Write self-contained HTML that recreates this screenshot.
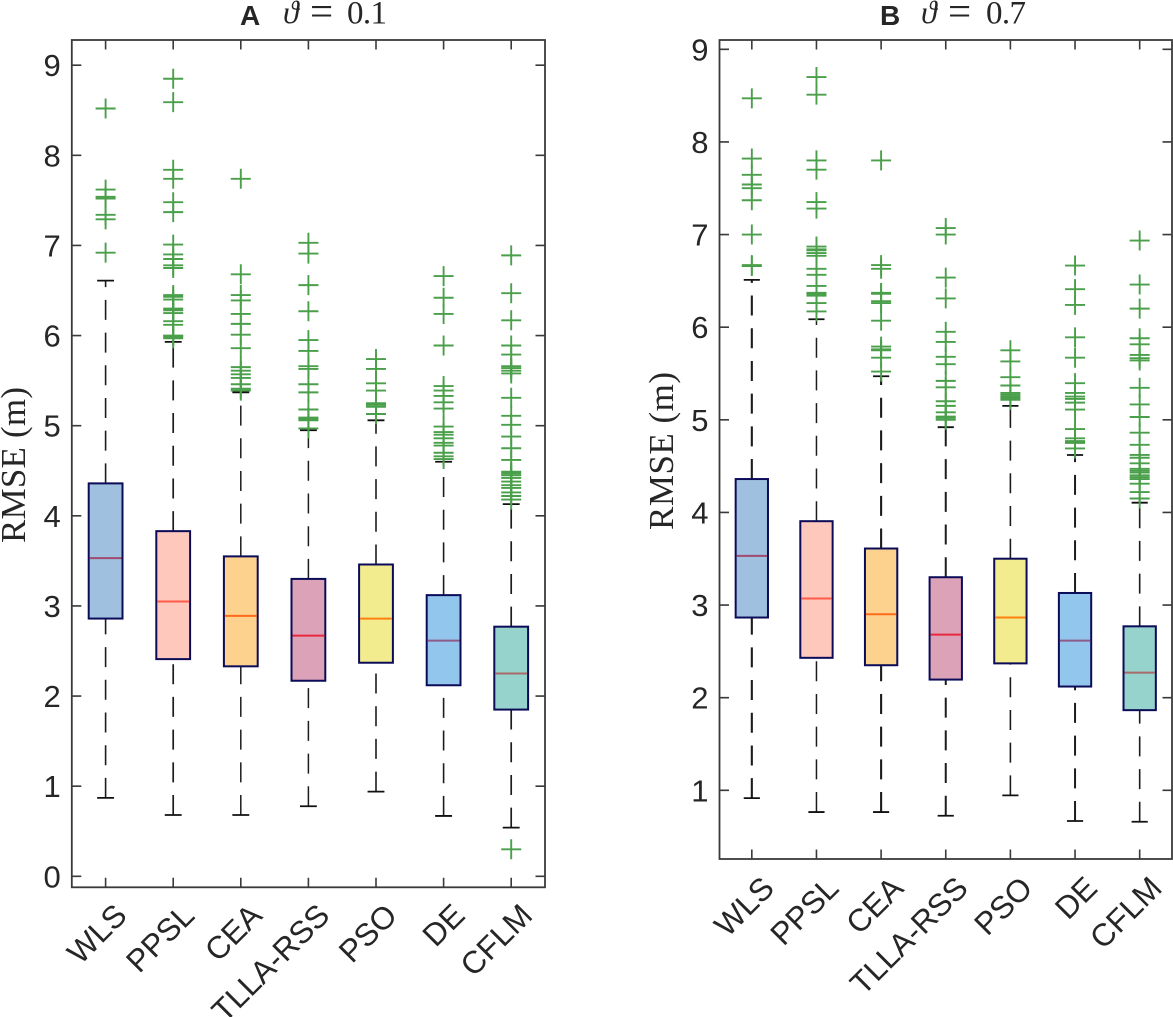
<!DOCTYPE html>
<html lang="en">
<head>
<meta charset="utf-8">
<title>RMSE box plots</title>
<style>
html,body{margin:0;padding:0;background:#fff;width:1173px;height:1017px;overflow:hidden}
svg{display:block}
text{font-family:"Liberation Sans",sans-serif;fill:#262626}
.serif{font-family:"Liberation Serif","DejaVu Serif",serif}
</style>
</head>
<body>
<svg id="chart" width="1173" height="1017" viewBox="0 0 1173 1017" xmlns="http://www.w3.org/2000/svg"></svg>
<script>
const categories = ['WLS','PPSL','CEA','TLLA-RSS','PSO','DE','CFLM'];
const yTicksA = [0,1,2,3,4,5,6,7,8,9];
const yTicksB = [1,2,3,4,5,6,7,8,9];

const lowerA  = [0.87,0.68,0.68,0.777,0.94,0.67,0.54];
const q1A     = [2.86,2.41,2.33,2.17,2.37,2.12,1.85];
const medianA = [3.53,3.05,2.89,2.67,2.86,2.615,2.25];
const q3A     = [4.36,3.83,3.55,3.30,3.46,3.12,2.77];
const upperA  = [6.61,5.93,5.37,4.95,5.06,4.60,4.13];
const outliersA = [
  [8.52,7.62,7.54,7.52,7.34,7.29,6.92],
  [8.85,8.59,7.84,7.74,7.48,7.37,7.01,6.90,6.85,6.78,6.75,6.45,6.43,6.40,6.30,6.28,6.25,6.16,6.12,6.00,5.99,5.97],
  [7.74,6.68,6.45,6.39,6.24,6.13,6.01,5.86,5.65,5.61,5.57,5.53,5.46,5.41,5.39],
  [7.03,6.91,6.56,6.27,5.95,5.83,5.66,5.63,5.46,5.37,5.18,5.09,5.075,5.06,4.97],
  [5.74,5.63,5.47,5.39,5.25,5.23,5.21,5.13],
  [6.66,6.42,6.24,5.89,5.44,5.39,5.33,5.26,5.19,4.99,4.93,4.90,4.86,4.81,4.78,4.70,4.66,4.63],
  [6.89,6.47,6.17,5.89,5.79,5.66,5.64,5.61,5.58,5.31,5.11,5.01,4.88,4.75,4.62,4.49,4.47,4.45,4.42,4.38,4.34,4.31,4.26,4.22,4.18,0.30]
];

const lowerB  = [0.915,0.765,0.765,0.725,0.945,0.668,0.66];
const q1B     = [2.865,2.43,2.35,2.195,2.37,2.12,1.865];
const medianB = [3.53,3.07,2.90,2.68,2.865,2.615,2.27];
const q3B     = [4.36,3.905,3.61,3.30,3.50,3.13,2.77];
const upperB  = [6.51,6.085,5.47,4.92,5.15,4.62,4.105];
const outliersB = [
  [8.47,7.82,7.645,7.54,7.50,7.37,7.0,6.67,6.66],
  [8.70,8.51,7.80,7.70,7.35,7.28,6.87,6.84,6.83,6.80,6.77,6.63,6.565,6.445,6.37,6.355,6.34,6.26,6.17],
  [7.80,6.67,6.63,6.37,6.36,6.28,6.26,6.07,5.79,5.76,5.75,5.67,5.52],
  [7.07,7.0,6.535,6.31,5.95,5.84,5.68,5.60,5.42,5.35,5.20,5.15,5.08,5.035,5.02,5.0],
  [5.75,5.63,5.46,5.37,5.29,5.27,5.25,5.23,5.215],
  [6.665,6.41,6.24,5.89,5.67,5.395,5.29,5.25,5.225,5.185,5.11,4.90,4.80,4.77,4.75,4.69],
  [6.935,6.46,6.20,5.88,5.815,5.70,5.665,5.64,5.345,5.165,5.03,4.86,4.73,4.62,4.59,4.53,4.47,4.45,4.43,4.40,4.38,4.36,4.31,4.22,4.15]
];

const boxFills = ['#9fc0de','#fec8bd','#fdd28f','#dca2b8','#f2ec8e','#93c6ec','#96d3cc'];
const medianColors = ['#a04a70','#ff5a4a','#ff6a1a','#e8283c','#ff8010','#8e5a88','#a86a6a'];

const NS = 'http://www.w3.org/2000/svg';
const root = document.getElementById('chart');

function make(parent, tag, attrs, name) {
  const el = document.createElementNS(NS, tag);
  for (const k in attrs) el.setAttribute(k, attrs[k]);
  
  
  parent.appendChild(el);
  return el;
}

function slug(s) { return s.toLowerCase(); }

function drawPanel(p) {
  const g = make(root, 'g', {}, 'panel-' + p.id);
  const W = p.right - p.left;
  const H = p.bottom - p.top;
  const x = i => p.left + (i + 0.5) / categories.length * W;
  const y = v => p.bottom - (v - p.yMin) / (p.yMax - p.yMin) * H;
  const step = W / categories.length;
  const boxHalf = step * 0.25;
  const capHalf = step * 0.125;

  categories.forEach((c, i) => {
    const cx = x(i);
    const series = make(g, 'g', {}, 'series-' + slug(c));
    make(series, 'path', {d:`M${cx} ${y(p.q3[i])}V${y(p.upper[i])}`, fill:'none', stroke:'#1c1c1c', 'stroke-width':p.ww[i], 'stroke-dasharray':'20 12.7'}, 'upper-whisker');
    make(series, 'path', {d:`M${cx} ${y(p.lower[i])}V${y(p.q1[i])}`, fill:'none', stroke:'#1c1c1c', 'stroke-width':p.ww[i], 'stroke-dasharray':'20 12.7'}, 'lower-whisker');
    make(series, 'path', {d:`M${cx-capHalf} ${y(p.upper[i])}H${cx+capHalf}`, stroke:'#111', 'stroke-width':1.8}, 'upper-cap');
    make(series, 'path', {d:`M${cx-capHalf} ${y(p.lower[i])}H${cx+capHalf}`, stroke:'#111', 'stroke-width':1.8}, 'lower-cap');
    make(series, 'rect', {x:cx-boxHalf, y:y(p.q3[i]), width:boxHalf*2, height:y(p.q1[i])-y(p.q3[i]), fill:boxFills[i], stroke:'#0b0b58', 'stroke-width':2}, 'box');
    make(series, 'path', {d:`M${cx-boxHalf+1} ${y(p.median[i])}H${cx+boxHalf-1}`, stroke:medianColors[i], 'stroke-width':2}, 'median-line');
    p.outliers[i].forEach(v => {
      const oy = y(v);
      make(series, 'path', {d:`M${cx-10} ${oy}H${cx+10}M${cx} ${oy-10}V${oy+10}`, fill:'none', stroke:'#4a9f4a', 'stroke-width':1.9}, 'outlier');
    });
  });

  make(g, 'rect', {x:p.left, y:p.top, width:W, height:H, fill:'none', stroke:'#3a3a3a', 'stroke-width':1.8}, 'axes-frame');

  p.yTicks.forEach(t => {
    const ty = y(t);
    make(g, 'path', {d:`M${p.left} ${ty}h9.5M${p.right} ${ty}h-9.5`, stroke:'#3a3a3a', 'stroke-width':1.6}, 'y-tick');
    const lab = make(g, 'text', {x:p.left - 11, y:ty + 11, 'text-anchor':'end', 'font-size':31}, 'y-tick-label');
    lab.textContent = t;
  });

  categories.forEach((c, i) => {
    const cx = x(i);
    make(g, 'path', {d:`M${cx} ${p.top}v9.5M${cx} ${p.bottom}v-9.5`, stroke:'#3a3a3a', 'stroke-width':1.6}, 'x-tick');
    const ax = cx + p.labelDx;
    const ay = p.bottom + p.labelDy;
    const lab = make(g, 'text', {x:ax, y:ay, 'text-anchor':'end', 'font-size':31.5, transform:`rotate(-45 ${ax} ${ay})`}, 'x-tick-label');
    lab.textContent = c;
  });

  const yl = make(g, 'text', {x:0, y:0, class:'serif', 'font-size':35, 'text-anchor':'middle', textLength:p.ylLen, lengthAdjust:'spacing', transform:`translate(${p.ylX} ${p.ylY}) rotate(-90)`}, 'y-axis-title');
  yl.textContent = 'RMSE (m)';

  const letter = make(g, 'text', {x:p.letterX, y:25, 'font-size':28, 'font-weight':'bold', fill:'#000'}, 'panel-letter');
  letter.textContent = p.id.toUpperCase();
  const th = make(g, 'text', {x:p.thetaX, y:23, class:'serif', 'font-size':32, 'font-style':'italic', fill:'#000'}, 'title-symbol');
  th.textContent = 'ϑ';
  const eq = make(g, 'text', {x:p.eqX, y:25, class:'serif', 'font-size':41, fill:'#000'}, 'title-equals');
  eq.textContent = '=';
  const val = make(g, 'text', {x:p.valX, y:23.5, class:'serif', 'font-size':33, textLength:40, lengthAdjust:'spacing', fill:'#000'}, 'title-value');
  val.textContent = p.theta;
}

drawPanel({
  id:'a', left:71.8, right:545, top:40, bottom:887.3, yMin:-0.122, yMax:9.28,
  yTicks:yTicksA, lower:lowerA, q1:q1A, median:medianA, q3:q3A, upper:upperA, outliers:outliersA,
  ww:[1.6,1.7,1.5,1.5,1.6,1.6,1.7],
  labelDx:23, labelDy:30, ylX:25, ylY:465, ylLen:156,
  letterX:240, thetaX:283, eqX:310, valX:347, theta:'0.1'
});
drawPanel({
  id:'b', left:719.5, right:1172, top:40, bottom:859, yMin:0.258, yMax:9.10,
  yTicks:yTicksB, lower:lowerB, q1:q1B, median:medianB, q3:q3B, upper:upperB, outliers:outliersB,
  ww:[2.1,1.5,2.1,2,1.6,2,1.6],
  labelDx:24, labelDy:31, ylX:673, ylY:451, ylLen:158,
  letterX:880, thetaX:921, eqX:948, valX:986, theta:'0.7'
});
</script>
</body>
</html>
